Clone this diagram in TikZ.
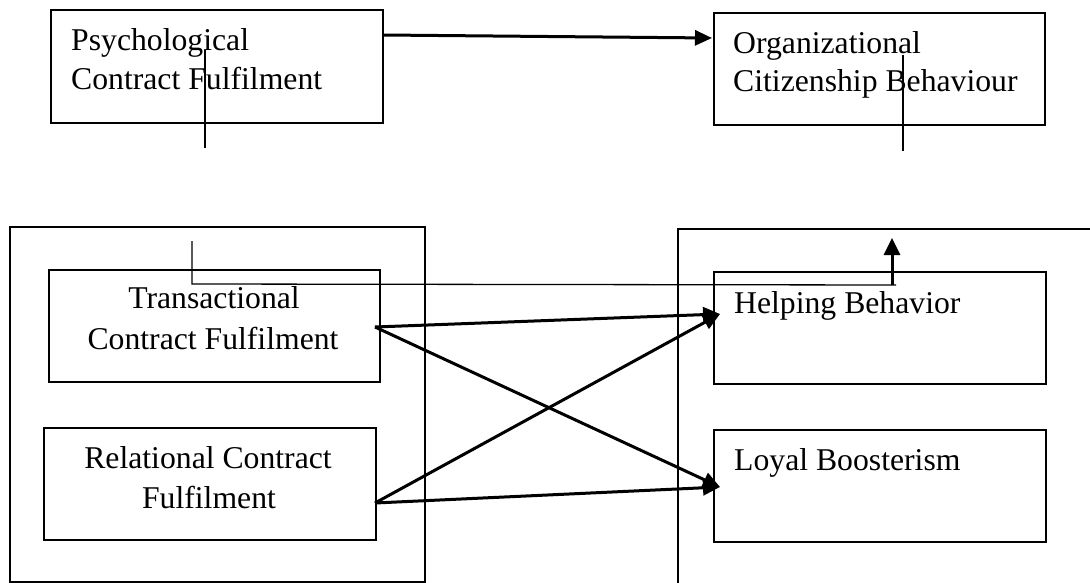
\documentclass[tikz,border=0pt]{standalone}
\usepackage{fontspec}
\setmainfont{Liberation Serif}
\usetikzlibrary{arrows.meta}
\begin{document}
\begin{tikzpicture}[x=1pt,y=-1pt,
  box/.style={draw,line width=2pt,rectangle,anchor=north west,inner sep=0pt},
  txt/.style={anchor=base west,inner sep=0pt,font=\fontsize{31.7}{38}\selectfont},
  ctxt/.style={anchor=base,inner sep=0pt,font=\fontsize{31.7}{38}\selectfont},
  thin/.style={line width=1.3pt},
  arr/.style={line width=3pt,-{Triangle[length=17pt,width=15pt]}}]
\useasboundingbox (0,0) rectangle (1090,583);
% outer group boxes
\node[box,minimum width=415,minimum height=355] (left) at (9,226) {};
\node[box,minimum width=500,minimum height=420] (right) at (677,228) {};
% top boxes
\node[box,minimum width=332,minimum height=113] (pcf) at (50,9) {};
\node[box,minimum width=331,minimum height=112] (ocb) at (713,12) {};
\node[txt] (pcf1) at (71,51) {Psychological};
\node[txt] (pcf2) at (71,90) {Contract Fulfilment};
\node[txt] (ocb1) at (733,54) {Organizational};
\node[txt] (ocb2) at (733,92) {Citizenship Behaviour};
% inner boxes
\node[box,minimum width=331,minimum height=112] (tcf) at (48,269) {};
\node[box,minimum width=332,minimum height=112] (rcf) at (43,427) {};
\node[box,minimum width=332,minimum height=112] (hb) at (713,271) {};
\node[box,minimum width=332,minimum height=112] (lb) at (713,429) {};
\node[ctxt] (tcf1) at (214,308) {Transactional};
\node[ctxt] (tcf2) at (213,349) {Contract Fulfilment};
\node[ctxt] (rcf1) at (208,468) {Relational Contract};
\node[ctxt] (rcf2) at (209,508) {Fulfilment};
\node[txt] (hb1) at (734,313) {Helping Behavior};
\node[txt] (lb1) at (734,470) {Loyal Boosterism};
% connector points
\coordinate (pcfo) at (383,35);
\coordinate (ocbi) at (712,38);
\coordinate (tcfo) at (375,327);
\coordinate (rcfo) at (375,503);
\coordinate (hbi) at (720,314);
\coordinate (lbi) at (720,487);
\coordinate (v1a) at (205,50);
\coordinate (v1b) at (205,148);
\coordinate (v2a) at (903,55);
\coordinate (v2b) at (903,151);
\coordinate (ha) at (192,241);
\coordinate (hc) at (192,284);
\coordinate (hd) at (896,285);
\coordinate (ua) at (892,285);
\coordinate (ub) at (892,238);
% connectors
\draw[arr] (pcfo) -- (ocbi);
\draw[arr] (tcfo) -- (hbi);
\draw[arr] (tcfo) -- (lbi);
\draw[arr] (rcfo) -- (hbi);
\draw[arr] (rcfo) -- (lbi);
\draw[thin] (v1a) -- (v1b);
\draw[thin] (v2a) -- (v2b);
\draw[thin] (ha) -- (hc) -- (hd);
\draw[line width=3pt,-{Triangle[length=17pt,width=16pt]}] (ua) -- (ub);
\end{tikzpicture}
\end{document}
